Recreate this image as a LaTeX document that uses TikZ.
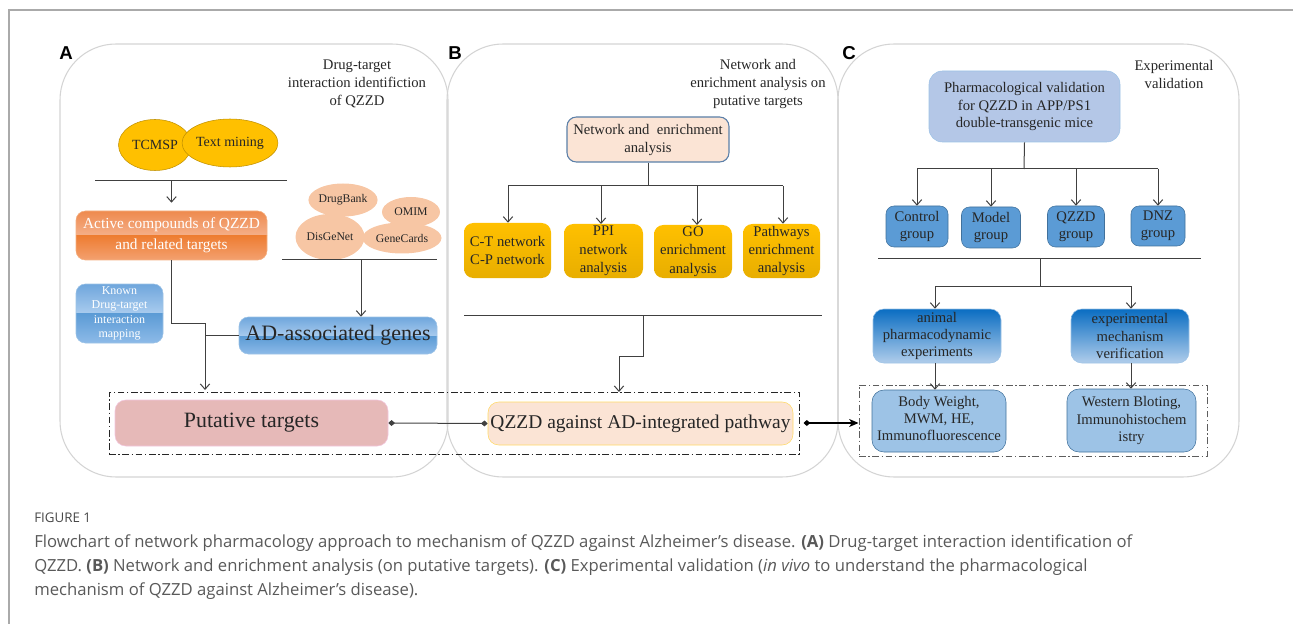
\documentclass[tikz,border=0pt]{standalone}
\usepackage{fontspec}
\setmainfont{Liberation Serif}
\newfontfamily\capfont{Open Sans}
\newfontfamily\labfont{Liberation Sans}
\usetikzlibrary{arrows.meta,shapes.geometric,fit,calc}
\definecolor{framec}{HTML}{AAAAAA}
\definecolor{panelc}{HTML}{D4D4D4}
\definecolor{linec}{HTML}{404040}
\definecolor{txt}{HTML}{262626}
\definecolor{gold}{HTML}{FFC000}
\definecolor{golddk}{HTML}{C09000}
\definecolor{golddeep}{HTML}{E8AE00}
\definecolor{salmon}{HTML}{F7C6A4}
\definecolor{orT}{HTML}{EE8A4E}
\definecolor{orM}{HTML}{F5B08A}
\definecolor{orN}{HTML}{EE7D32}
\definecolor{orB}{HTML}{F3A170}
\definecolor{orbd}{HTML}{F4B183}
\definecolor{blT}{HTML}{6FA6DC}
\definecolor{blM}{HTML}{A8CBEE}
\definecolor{blN}{HTML}{5B9BD5}
\definecolor{blB}{HTML}{8DBAE8}
\definecolor{blueB}{HTML}{5B9BD5}
\definecolor{bluebd}{HTML}{9DC3E6}
\definecolor{bluedk}{HTML}{41719C}
\definecolor{pinkf}{HTML}{E6B9B8}
\definecolor{pinkb}{HTML}{F2C6DE}
\definecolor{peach}{HTML}{FBE4D5}
\definecolor{peachbd}{HTML}{5B7FA8}
\definecolor{goldbd}{HTML}{FFD966}
\definecolor{lblue}{HTML}{B4C7E7}
\definecolor{deepblue}{HTML}{0A6DC2}
\definecolor{paleblue}{HTML}{B0CDEB}
\definecolor{capc}{HTML}{595959}
\definecolor{dashc}{HTML}{262626}
% gloss fill: x1,y1,x2,y2,ymid, upper top, upper bottom, lower top, lower bottom
\newcommand\glossbox[9]{%
  \begin{scope}
    \clip[rounded corners=7pt] (#1,#2) rectangle (#3,#4);
    \shade[top color=#6, bottom color=#7] (#1,#2) rectangle (#3,#5);
    \shade[top color=#8, bottom color=#9] (#1,#5) rectangle (#3,#4);
  \end{scope}}
\begin{document}
\begin{tikzpicture}[x=0.75pt,y=-0.75pt,
  panel/.style={draw=panelc, line width=0.8pt, rounded corners=42pt},
  bx/.style={inner sep=0pt, rounded corners=5pt},
  btxt/.style={inner sep=0pt, align=center, text=txt, font=\fontsize{11}{13}\selectfont},
  ybx/.style={bx, top color=gold, bottom color=golddeep, rounded corners=7pt},
  conn/.style={draw=linec, line width=0.75pt},
  arr/.style={conn, -{Straight Barb[length=4pt,width=7pt]}},
  dashbox/.style={draw=dashc, line width=0.75pt, dash pattern=on 5pt off 2pt on 1pt off 2pt},
  plabel/.style={font=\labfont\bfseries\fontsize{14}{14}\selectfont},
  ptitle/.style={align=center, text=txt, font=\fontsize{11}{13.5}\selectfont},
  capline/.style={anchor=base west, inner sep=0pt, text=capc, font=\capfont\fontsize{12.5}{14}\selectfont}
]
\useasboundingbox (0,0) rectangle (1293,624);

% outer frame
\draw[framec, line width=0.9pt] (9,624) -- (9,10) -- (1293,10);

% panels
\draw[panel] (60,44) rectangle (448,477);
\draw[panel] (447,44) rectangle (838,477);
\draw[panel] (838,44) rectangle (1239,477);

\node[plabel] (labA) at (66,53) {A};
\node[plabel] (labB) at (455,53) {B};
\node[plabel] (labC) at (849,53) {C};

\node[ptitle] (titA) at (357,84) {Drug-target\\interaction identifiction\\of QZZD};
\node[ptitle] (titB) at (758,84) {Network and\\enrichment analysis on\\putative targets};
\node[ptitle] (titC) at (1174,74) {Experimental\\validation};

% ---------- Panel A ----------
\node[ellipse, draw=golddk, fill=gold, minimum width=54.75pt, minimum height=38.25pt, inner sep=0pt,
      text=txt, font=\fontsize{10.5}{12}\selectfont] (tcmsp) at (155,145) {TCMSP};
\node[ellipse, draw=golddk, fill=gold, minimum width=66pt, minimum height=36pt, inner sep=0pt,
      text=txt, font=\fontsize{10.5}{12}\selectfont] (tmin) at (230,143) {Text mining};

\coordinate (h1l) at (95,181);
\coordinate (h1r) at (287,181);
\draw[conn] (h1l) -- (h1r);

\glossbox{76}{211}{267}{260}{236}{orT}{orM}{orN}{orB}
\node[bx, fit={(76,211) (267,260)}, draw=orbd, rounded corners=7pt] (act) {};
\node[btxt, text=white, font=\fontsize{11.5}{16}\selectfont] (acttxt) at (act.center) {Active compounds of QZZD\\and related targets};
\draw[arr, shorten >=6pt] (act.north |- h1l) -- (act.north);

\node[ellipse, fill=salmon, minimum width=51pt, minimum height=24.75pt, inner sep=0pt, text=txt,
      font=\fontsize{8.8}{10}\selectfont] (drugbank) at (343,200) {DrugBank};
\node[ellipse, fill=salmon, minimum width=43.5pt, minimum height=22.5pt, inner sep=0pt, text=txt,
      font=\fontsize{8.8}{10}\selectfont] (omim) at (411,212) {OMIM};
\node[ellipse, fill=salmon, minimum width=51.75pt, minimum height=34.5pt, inner sep=0pt, text=txt,
      font=\fontsize{8.8}{10}\selectfont] (disgenet) at (330,237) {DisGeNet};
\node[ellipse, fill=salmon, minimum width=59.25pt, minimum height=23.25pt, inner sep=0pt, text=txt,
      font=\fontsize{8.8}{10}\selectfont] (genecards) at (402,238) {GeneCards};

\coordinate (h2l) at (282,260);
\coordinate (h2r) at (437,260);
\draw[conn] (h2l) -- (h2r);

\glossbox{239}{317}{437}{354}{336}{blT}{blM}{blN}{blB}
\node[bx, fit={(239,317) (437,354)}, draw=bluebd, rounded corners=7pt] (adg) {};
\node[btxt, font=\fontsize{16.5}{18}\selectfont] (adgtxt) at (adg.center) {AD-associated genes};
\coordinate (h2m) at (361,260);
\draw[arr] (h2m) -- (h2m |- adg.north);

\glossbox{76}{284}{163}{343}{313}{blT}{blM}{blN}{blB}
\node[bx, fit={(76,284) (163,343)}, draw=bluebd, rounded corners=7pt] (known) {};
\node[btxt, text=white, font=\fontsize{9}{10.8}\selectfont] (knowntxt) at (known.center)
  {Known\\Drug-target\\interaction\\mapping};

% dashed box A/B
\node[dashbox, fit={(109,392) (799,454)}, inner sep=0pt] (dashA) {};

\node[bx, fit={(115,400) (388,446)}, draw=pinkb, fill=pinkf, rounded corners=8pt] (put) {};
\node[btxt, font=\fontsize{16.4}{18}\selectfont] (puttxt) at (put.center) {Putative targets};

\coordinate (jA1) at (171.5,323);
\coordinate (jA2) at (205,323);
\coordinate (jA3) at (205,390);
\draw[conn] (act.south) -- (jA1) -- (jA2);
\draw[arr] (jA2) -- (jA3);
\draw[conn] (adg.west) -- (adg.west -| jA2);

% ---------- Panel B ----------
\node[bx, fit={(567,117) (729,162)}, draw=peachbd, fill=peach, rounded corners=7pt, line width=0.8pt] (net) {};
\node[btxt, font=\fontsize{11}{13.5}\selectfont] (nettxt) at (net.center) {Network and\ \ enrichment\\analysis};

\coordinate (hBm) at (648,186);
\coordinate (hBl) at (508,186);
\coordinate (hBr) at (783,186);
\draw[conn] (net.south) -- (hBm);
\draw[conn] (hBl) -- (hBr);

\node[ybx, fit={(464,223) (551,278)}] (ct) {};
\node[ybx, fit={(564,224) (643,278)}] (ppi) {};
\node[ybx, fit={(654,225) (732,278)}] (go) {};
\node[ybx, fit={(743,224) (820,278)}] (pw) {};
\node[btxt, font=\fontsize{11}{13}\selectfont] (cttxt) at (ct.center) {C-T network\\C-P network};
\node[btxt, font=\fontsize{11}{13.8}\selectfont] (ppitxt) at (ppi.center) {PPI\\network\\analysis};
\node[btxt, font=\fontsize{11}{13.8}\selectfont] (gotxt) at (go.center) {GO\\enrichment\\analysis};
\node[btxt, font=\fontsize{11}{13.8}\selectfont] (pwtxt) at (pw.center) {Pathways\\enrichment\\analysis};

\draw[arr] (hBl) -- (hBl |- ct.north);
\draw[arr] (601,186) -- (601,224);
\draw[arr] (697,186) -- (697,225);
\draw[arr] (hBr) -- (hBr |- pw.north);

\coordinate (h3l) at (464,315);
\coordinate (h3r) at (822,315);
\draw[conn] (h3l) -- (h3r);
\coordinate (jB1) at (643,315);
\coordinate (jB2) at (643,356);
\coordinate (jB3) at (619,356);
\coordinate (jB4) at (619,392);
\draw[conn] (jB1) -- (jB2) -- (jB3);
\draw[arr] (jB3) -- (jB4);

\node[bx, fit={(488,402) (793,445)}, draw=goldbd, fill=peach, rounded corners=8pt] (qz) {};
\node[btxt, font=\fontsize{14.6}{18}\selectfont] (qztxt) at (qz.center) {QZZD against AD-integrated pathway};

\draw[conn, {Diamond[length=5pt,width=4.5pt]}-{Diamond[length=5pt,width=4.5pt]}] (put.east) -- (qz.west);

% ---------- Panel C ----------
\node[bx, fit={(929,71) (1120,142)}, draw=bluebd, fill=lblue, rounded corners=10pt] (pharm) {};
\node[btxt, font=\fontsize{11}{13.2}\selectfont] (pharmtxt) at (pharm.center) {Pharmacological validation\\for QZZD in APP/PS1\\double-transgenic mice};

\coordinate (hCm) at (1024,169);
\coordinate (hCl) at (917,169);
\coordinate (hCr) at (1158,169);
\draw[conn] (pharm.south) -- (hCm);
\draw[conn] (hCl) -- (hCr);

\node[bx, fill=blueB, draw=bluedk, minimum width=46.5pt, minimum height=30.75pt, rounded corners=6pt] (ctrl) at (917,226.5) {};
\node[bx, fill=blueB, draw=bluedk, minimum width=44.25pt, minimum height=30.75pt, rounded corners=6pt] (model) at (991,227.5) {};
\node[bx, fill=blueB, draw=bluedk, minimum width=42.75pt, minimum height=30.75pt, rounded corners=6pt] (qzg) at (1076,226.5) {};
\node[bx, fill=blueB, draw=bluedk, minimum width=40.5pt, minimum height=30pt, rounded corners=6pt] (dnz) at (1158,226) {};
\node[btxt] (ctrltxt) at (ctrl.center) {Control\\group};
\node[btxt] (modeltxt) at (model.center) {Model\\group};
\node[btxt] (qzgtxt) at (qzg.center) {QZZD\\group};
\node[btxt] (dnztxt) at (dnz.center) {DNZ\\group};

\draw[arr] (hCl) -- (ctrl.north);
\draw[arr] (hCl -| model.north) -- (model.north);
\draw[arr] (hCl -| qzg.north) -- (qzg.north);
\draw[arr] (hCr) -- (dnz.north);

\coordinate (h4l) at (878,259);
\coordinate (h4r) at (1201,259);
\draw[conn] (h4l) -- (h4r);
\coordinate (h4m) at (1040,259);
\coordinate (h5m) at (1040,286);
\coordinate (h5l) at (935,286);
\coordinate (h5r) at (1131,286);
\draw[conn] (h4m) -- (h5m);
\draw[conn] (h5l) -- (h5r);

\node[bx, fit={(873,309) (1001,363)}, draw=bluebd, top color=deepblue, bottom color=paleblue, rounded corners=8pt] (anim) {};
\node[btxt] (animtxt) at (anim.center) {animal\\pharmacodynamic\\experiments};
\node[bx, fit={(1071,309) (1189,363)}, draw=bluebd, top color=deepblue, bottom color=paleblue, rounded corners=8pt] (expm) {};
\node[btxt] (expmtxt) at (expm.center) {experimental\\mechanism\\verification};

\draw[arr] (h5l) -- (h5l |- anim.north);
\draw[arr] (h5r) -- (h5r |- expm.north);

\node[dashbox, draw=linec!85, fit={(859,385) (1207,456)}, inner sep=0pt] (dashC) {};

\node[bx, fit={(872,390) (1006,452)}, draw=bluedk, fill=bluebd, rounded corners=9pt] (body) {};
\node[btxt] (bodytxt) at ([yshift=2pt]body.center) {Body Weight,\\MWM, HE,\\Immunofluorescence};
\node[bx, fit={(1067,389) (1196,452)}, draw=bluedk, fill=bluebd, rounded corners=9pt] (west) {};
\node[btxt] (westtxt) at (west.center) {Western Bloting,\\Immunohistochem\\istry};

\draw[arr] (h5l |- anim.south) -- (h5l |- body.north);
\draw[arr] (h5r |- expm.south) -- (h5r |- west.north);

\draw[conn, line width=0.8pt, draw=black, {Diamond[length=5pt,width=4.5pt]}-{Stealth[length=7pt,width=6pt,inset=2pt]}]
  ([xshift=3pt]dashA.east) -- (dashA.east -| dashC.west);

% ---------- Caption ----------
\node[anchor=base west, inner sep=0pt, text=capc!110, font=\capfont\fontsize{10}{11}\selectfont] (figlab) at (34,522) {FIGURE 1};
\node[capline] (cap1) at (34,547) {Flowchart of network pharmacology approach to mechanism of QZZD against Alzheimer’s disease. \textbf{(A)} Drug-target interaction identification of};
\node[capline] (cap2) at (34,571) {QZZD. \textbf{(B)} Network and enrichment analysis (on putative targets). \textbf{(C)} Experimental validation (\textit{in vivo} to understand the pharmacological};
\node[capline] (cap3) at (34,595) {mechanism of QZZD against Alzheimer’s disease).};
\end{tikzpicture}
\end{document}
